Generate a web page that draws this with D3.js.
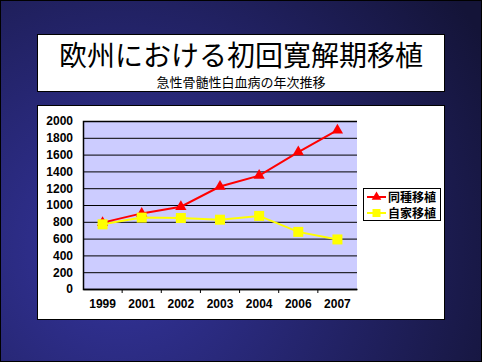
<!DOCTYPE html>
<html>
<head>
<meta charset="utf-8">
<script src="https://cdn.jsdelivr.net/npm/d3@7"></script>
<style>
  body { margin: 0; padding: 0; overflow: hidden; }
  svg { display: block; }
</style>
</head>
<body>
<svg id="chart"></svg>
<script>
const years = ["1999", "2001", "2002", "2003", "2004", "2006", "2007"];
const allogeneic = [790, 900, 980, 1220, 1350, 1630, 1890];
const autologous = [770, 850, 845, 825, 870, 680, 590];
const yTicks = [0, 200, 400, 600, 800, 1000, 1200, 1400, 1600, 1800, 2000];
const seriesNames = ["同種移植", "自家移植"];
const titleText = "欧州における初回寛解期移植";
const subtitleText = "急性骨髄性白血病の年次推移";

const W = 482, H = 362;
const svg = d3.select("#chart").attr("width", W).attr("height", H);

// background
const defs = svg.append("defs");
const grad = defs.append("radialGradient")
    .attr("id", "bg")
    .attr("gradientUnits", "userSpaceOnUse")
    .attr("cx", 120).attr("cy", 250).attr("r", 420);
grad.append("stop").attr("offset", "0%").attr("stop-color", "#34349e");
grad.append("stop").attr("offset", "100%").attr("stop-color", "#141438");

svg.append("rect")
    .attr("x", 0.5).attr("y", 0.5)
    .attr("width", W - 1).attr("height", H - 1)
    .attr("fill", "url(#bg)")
    .attr("stroke", "#000");

// title box
svg.append("rect")
    .attr("x", 37.5).attr("y", 34.5)
    .attr("width", 407).attr("height", 57)
    .attr("fill", "#fff").attr("stroke", "#000");

svg.append("text")
    .attr("x", 241).attr("y", 66)
    .attr("text-anchor", "middle")
    .attr("font-family", "'Noto Sans CJK JP', sans-serif")
    .attr("font-size", 28)
    .attr("fill", "#000")
    .text(titleText);

svg.append("text")
    .attr("x", 241).attr("y", 87)
    .attr("text-anchor", "middle")
    .attr("font-family", "'Noto Sans CJK JP', sans-serif")
    .attr("font-size", 13)
    .attr("fill", "#000")
    .text(subtitleText);

// chart box
svg.append("rect")
    .attr("x", 37.5).attr("y", 105.5)
    .attr("width", 407).attr("height", 214)
    .attr("fill", "#fff").attr("stroke", "#000");

const plot = { left: 83, top: 121, right: 357, bottom: 289 };

const x = d3.scaleBand()
    .domain(years)
    .range([plot.left, plot.right]);

const y = d3.scaleLinear()
    .domain([0, 2000])
    .range([plot.bottom, plot.top]);

svg.append("rect")
    .attr("x", plot.left).attr("y", plot.top)
    .attr("width", plot.right - plot.left)
    .attr("height", plot.bottom - plot.top)
    .attr("fill", "#ccccff");

// y axis with gridlines
const yAxis = svg.append("g")
    .attr("transform", "translate(" + plot.left + ",0)")
    .call(d3.axisLeft(y)
        .tickValues(yTicks)
        .tickSize(-(plot.right - plot.left))
        .tickPadding(10)
        .tickFormat(d3.format("d")));
yAxis.select(".domain").attr("stroke", "#000").attr("stroke-width", 1.5);
yAxis.selectAll(".tick line").attr("stroke", "#000").attr("stroke-width", 1);
yAxis.selectAll(".tick text")
    .attr("font-family", "'Liberation Sans', Arial, sans-serif")
    .attr("font-weight", "bold")
    .attr("font-size", 12)
    .attr("fill", "#000");

// x axis, ticks between categories
const xAxis = svg.append("g")
    .attr("transform", "translate(0," + plot.bottom + ")")
    .call(d3.axisBottom(x).tickSize(0).tickPadding(10));
xAxis.select(".domain").attr("stroke", "#000").attr("stroke-width", 1.5);
xAxis.selectAll(".tick text")
    .attr("font-family", "'Liberation Sans', Arial, sans-serif")
    .attr("font-weight", "bold")
    .attr("font-size", 12)
    .attr("fill", "#000");
xAxis.selectAll(".sep")
    .data(years.slice(1))
    .enter().append("line")
    .attr("x1", d => x(d)).attr("x2", d => x(d))
    .attr("y1", 0).attr("y2", 4)
    .attr("stroke", "#000");

const cx = d => x(d) + x.bandwidth() / 2;
const line = d3.line()
    .x((d, i) => cx(years[i]))
    .y(d => y(d));

// autologous (yellow) drawn first
svg.append("path")
    .datum(autologous)
    .attr("d", line)
    .attr("fill", "none")
    .attr("stroke", "#ffff00")
    .attr("stroke-width", 2);

svg.append("path")
    .datum(allogeneic)
    .attr("d", line)
    .attr("fill", "none")
    .attr("stroke", "#ff0000")
    .attr("stroke-width", 2);

const tri = d3.symbol().type(d3.symbolTriangle).size(55);
svg.selectAll(".tri")
    .data(allogeneic)
    .enter().append("path")
    .attr("d", tri)
    .attr("transform", (d, i) => "translate(" + cx(years[i]) + "," + y(d) + ")")
    .attr("fill", "#ff0000");

svg.selectAll(".sq")
    .data(autologous)
    .enter().append("rect")
    .attr("x", (d, i) => cx(years[i]) - 5)
    .attr("y", d => y(d) - 5)
    .attr("width", 10).attr("height", 10)
    .attr("fill", "#ffff00");

// legend
const legend = svg.append("g");
legend.append("rect")
    .attr("x", 363.5).attr("y", 188.5)
    .attr("width", 77).attr("height", 32)
    .attr("fill", "#fff").attr("stroke", "#000");

const colors = ["#ff0000", "#ffff00"];
seriesNames.forEach((name, i) => {
    const ly = 197 + i * 16;
    legend.append("line")
        .attr("x1", 367).attr("x2", 386)
        .attr("y1", ly).attr("y2", ly)
        .attr("stroke", colors[i]).attr("stroke-width", 2);
    if (i === 0) {
        legend.append("path")
            .attr("d", d3.symbol().type(d3.symbolTriangle).size(40))
            .attr("transform", "translate(376.5," + ly + ")")
            .attr("fill", colors[i]);
    } else {
        legend.append("rect")
            .attr("x", 372.5).attr("y", ly - 4)
            .attr("width", 8).attr("height", 8)
            .attr("fill", colors[i]);
    }
    legend.append("text")
        .attr("x", 388).attr("y", ly + 4.5)
        .attr("font-family", "'Noto Sans CJK JP', sans-serif")
        .attr("font-weight", "bold")
        .attr("font-size", 12)
        .attr("fill", "#000")
        .text(name);
});
</script>
</body>
</html>
